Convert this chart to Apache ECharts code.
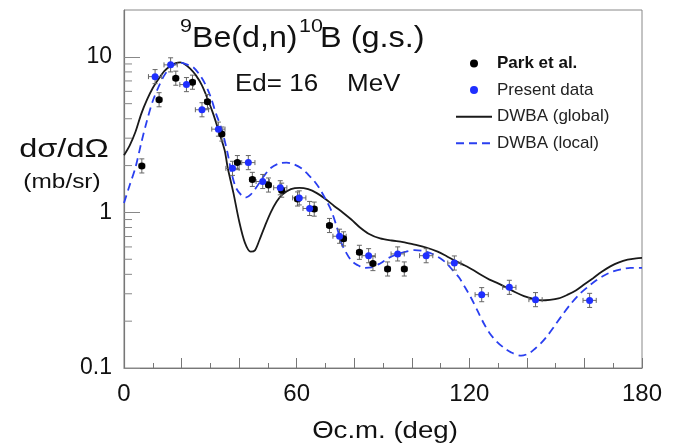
<!DOCTYPE html>
<html><head><meta charset="utf-8">
<script src="https://cdn.jsdelivr.net/npm/echarts@6/dist/echarts.min.js"></script>
<style>html,body{margin:0;padding:0;background:#fff}#c{width:689px;height:448px}</style>
</head><body><div id="c"></div>
<script>
// ---- data ----
const parkAngle = [6.2, 12.2, 18.0, 23.8, 29.0, 34.0, 39.4, 44.6, 50.2, 54.8, 60.3, 66.1, 71.4, 76.3, 81.8, 86.5, 91.6, 97.4];
const parkValue = [1.99, 5.30, 7.29, 6.87, 5.15, 3.19, 2.09, 1.63, 1.50, 1.39, 1.22, 1.05, 0.824, 0.676, 0.554, 0.469, 0.433, 0.433];
const parkErrAngle = 1.0;      // deg
const parkErrRel = 0.11;       // relative

const presentAngle = [10.8, 16.2, 21.7, 27.1, 32.8, 37.7, 43.2, 48.2, 54.3, 60.9, 64.5, 74.9, 85.0, 95.1, 105.0, 114.8, 124.3, 133.9, 143.0, 161.8];
const presentValue = [7.46, 8.88, 6.63, 4.57, 3.43, 1.92, 2.09, 1.58, 1.44, 1.24, 1.06, 0.703, 0.527, 0.541, 0.527, 0.473, 0.296, 0.330, 0.275, 0.272];
const presentErrAngle = 2.3;   // deg
const presentErrRel = 0.11;    // relative

const globalAngle = [0, 2, 4, 6, 8, 10, 12, 14, 16, 18, 19.5, 21, 23, 25, 27, 29, 31, 33, 35, 36, 38, 40, 42, 44, 45.5, 47, 49, 51, 53, 55, 58, 61, 64, 67, 70, 73, 76, 79, 82, 85, 89, 93, 97, 101, 105, 109, 112, 115, 118, 121, 124, 127, 130, 133, 136, 139, 142, 145, 148, 151, 154, 157, 160, 163, 166, 169, 172, 175, 178, 180];
const globalValue = [2.33, 2.7, 3.3, 4.3, 5.3, 6.3, 7.2, 8.1, 8.7, 9.1, 9.2, 9.0, 8.4, 7.6, 6.6, 5.4, 4.3, 3.3, 2.5, 1.95, 1.34, 0.88, 0.64, 0.56, 0.57, 0.66, 0.82, 1.0, 1.17, 1.3, 1.41, 1.44, 1.41, 1.33, 1.22, 1.1, 1.0, 0.9, 0.8, 0.73, 0.68, 0.66, 0.645, 0.62, 0.595, 0.56, 0.525, 0.49, 0.46, 0.43, 0.397, 0.37, 0.35, 0.328, 0.307, 0.29, 0.279, 0.272, 0.274, 0.28, 0.295, 0.315, 0.345, 0.378, 0.415, 0.45, 0.478, 0.497, 0.507, 0.51];

const localAngle = [0, 2, 4, 6, 8, 10, 12, 14, 16, 18, 20, 22, 24, 26, 28, 30, 32, 34, 36, 37.5, 39, 41, 42.5, 44, 46, 48.5, 51, 54, 56.5, 59, 62, 64, 66, 68, 70, 72, 74, 75.5, 77, 79, 81, 83.5, 86, 89, 92, 95, 98, 101, 104, 107, 110, 112, 114, 116.5, 118.5, 120.5, 123, 125, 127, 129.5, 132, 134.5, 138, 141, 143, 145, 147, 149.5, 152, 155, 158, 161, 164, 167, 170, 173, 176, 180];
const localValue = [1.15, 1.5, 1.95, 2.8, 3.9, 5.2, 6.4, 7.6, 8.5, 9.0, 9.15, 8.9, 8.6, 7.8, 6.8, 5.6, 4.3, 3.4, 2.4, 1.75, 1.43, 1.28, 1.25, 1.3, 1.45, 1.7, 1.93, 2.07, 2.09, 2.04, 1.9, 1.75, 1.6, 1.42, 1.22, 1.03, 0.8, 0.64, 0.56, 0.49, 0.46, 0.44, 0.443, 0.47, 0.51, 0.54, 0.56, 0.572, 0.566, 0.542, 0.505, 0.473, 0.43, 0.38, 0.33, 0.285, 0.23, 0.194, 0.168, 0.148, 0.135, 0.126, 0.12, 0.125, 0.134, 0.145, 0.16, 0.185, 0.215, 0.255, 0.295, 0.33, 0.365, 0.395, 0.418, 0.432, 0.44, 0.44];

const xTickLabels = [0, 60, 120, 180];
const yTickLabels = [0.1, 1, 10];
const yMinorTicks = [0.2, 0.3, 0.4, 0.5, 0.6, 0.7, 0.8, 0.9, 2, 3, 4, 5, 6, 7, 8, 9];

// ---- chart ----
const FONT = '"Liberation Sans", Arial, Helvetica, sans-serif';
const zip = (a, b) => a.map((v, i) => [v, b[i]]);
const errData = (a, b, ex, ey) => a.map((v, i) => [v, b[i], ex, ey]);

function errRender(params, api) {
  const x = api.value(0), y = api.value(1), ex = api.value(2), ey = api.value(3);
  const l = api.coord([x - ex, y]), r = api.coord([x + ex, y]);
  const t = api.coord([x, y * (1 + ey)]), b = api.coord([x, y / (1 + ey)]);
  const cap = 2.5;
  const st = { stroke: '#666', lineWidth: 1 };
  const ln = (x1, y1, x2, y2) => ({ type: 'line', shape: { x1, y1, x2, y2 }, style: st });
  return { type: 'group', children: [
    ln(l[0], l[1], r[0], r[1]),
    ln(t[0], t[1], b[0], b[1]),
    ln(l[0], l[1] - cap, l[0], l[1] + cap),
    ln(r[0], r[1] - cap, r[0], r[1] + cap),
    ln(t[0] - cap, t[1], t[0] + cap, t[1]),
    ln(b[0] - cap, b[1], b[0] + cap, b[1])
  ]};
}

function minorTickRender(params, api) {
  const p = api.coord([0, api.value(1)]);
  return { type: 'line', shape: { x1: p[0], y1: p[1], x2: p[0] + 8, y2: p[1] }, style: { stroke: '#888', lineWidth: 1 } };
}

const chart = echarts.init(document.getElementById('c'), null, { renderer: 'canvas' });
const txt = (text, x, y, size, opts = {}) => ({
  type: 'text', x, y, scaleX: opts.sx || 1.13, silent: true,
  style: { text, fontSize: size, fontFamily: FONT, fill: '#111', align: opts.align || 'left', verticalAlign: 'middle', fontWeight: opts.weight || 'normal' }
});

chart.setOption({
  animation: false,
  backgroundColor: '#fff',
  textStyle: { fontFamily: FONT },
  grid: { left: 124, right: 47, top: 10, bottom: 80, show: true, borderColor: '#888', borderWidth: 1 },
  legend: {
    orient: 'vertical', left: 450, top: 50, itemWidth: 36, itemHeight: 8, itemGap: 9.6,
    textStyle: { fontSize: 17, color: '#222', fontFamily: FONT },
    data: [
      { name: 'Park et al.', textStyle: { fontWeight: 'bold', color: '#111' } },
      'Present data',
      { name: 'DWBA (global)', itemStyle: { opacity: 0 } },
      { name: 'DWBA (local)', itemStyle: { opacity: 0 } }
    ]
  },
  xAxis: {
    type: 'value', min: 0, max: 180, interval: 20,
    axisLine: { lineStyle: { color: '#777', width: 1.2 } },
    axisTick: { inside: true, length: 10, lineStyle: { color: '#777' } },
    minorTick: { show: true, splitNumber: 2, length: 5, lineStyle: { color: '#777' } },
    splitLine: { show: false },
    axisLabel: { fontSize: 24, color: '#111', margin: 14, fontFamily: FONT,
      formatter: v => (xTickLabels.indexOf(v) >= 0 ? String(v) : '') }
  },
  yAxis: {
    type: 'log', logBase: 10, min: 0.1, max: 20,
    axisLine: { show: true, lineStyle: { color: '#777', width: 1.2 } },
    axisTick: { inside: true, length: 16, lineStyle: { color: '#888' } },
    splitLine: { show: false },
    axisLabel: { fontSize: 23, color: '#111', margin: 12, showMaxLabel: false, fontFamily: FONT,
      formatter: v => { const m = yTickLabels.find(t => Math.abs(t - v) / t < 1e-6); return m === undefined ? '' : String(m); } }
  },
  graphic: [
    txt('9', 180, 27, 19),
    txt('Be(d,n)', 192, 39, 29, { sx: 1.11 }),
    txt('10', 299, 27, 19),
    txt('B (g.s.)', 320, 39, 29, { sx: 1.12 }),
    txt('Ed= 16', 235, 85, 23),
    txt('MeV', 347, 85, 23),
    txt('dσ/dΩ', 64, 150, 25, { align: 'center', sx: 1.3 }),
    txt('(mb/sr)', 62, 182, 20, { align: 'center', sx: 1.22 }),
    txt('Θc.m. (deg)', 385, 431, 24, { align: 'center', sx: 1.15 })
  ],
  series: [
    { type: 'custom', name: 'yMinor', data: yMinorTicks.map(v => [0, v]), renderItem: minorTickRender, clip: false, silent: true, z: 1 },
    { type: 'line', name: 'DWBA (global)', data: zip(globalAngle, globalValue), symbol: 'none', smooth: 0.3,
      lineStyle: { color: '#1a1a1a', width: 1.8 }, itemStyle: { color: '#1a1a1a' }, z: 2 },
    { type: 'line', name: 'DWBA (local)', data: zip(localAngle, localValue), symbol: 'none', smooth: 0.3,
      lineStyle: { color: '#2a3ff0', width: 1.8, type: [8, 5] }, itemStyle: { color: '#2a3ff0' }, z: 2 },
    { type: 'custom', name: 'parkErr', data: errData(parkAngle, parkValue, parkErrAngle, parkErrRel), renderItem: errRender, clip: true, silent: true, z: 3 },
    { type: 'custom', name: 'presentErr', data: errData(presentAngle, presentValue, presentErrAngle, presentErrRel), renderItem: errRender, clip: true, silent: true, z: 3 },
    { type: 'scatter', name: 'Park et al.', data: zip(parkAngle, parkValue), symbol: 'circle', symbolSize: 7, itemStyle: { color: '#000', opacity: 1 }, z: 4 },
    { type: 'scatter', name: 'Present data', data: zip(presentAngle, presentValue), symbol: 'circle', symbolSize: 7, itemStyle: { color: '#1f2fff', opacity: 1 }, z: 5 }
  ]
});
</script>
</body></html>
